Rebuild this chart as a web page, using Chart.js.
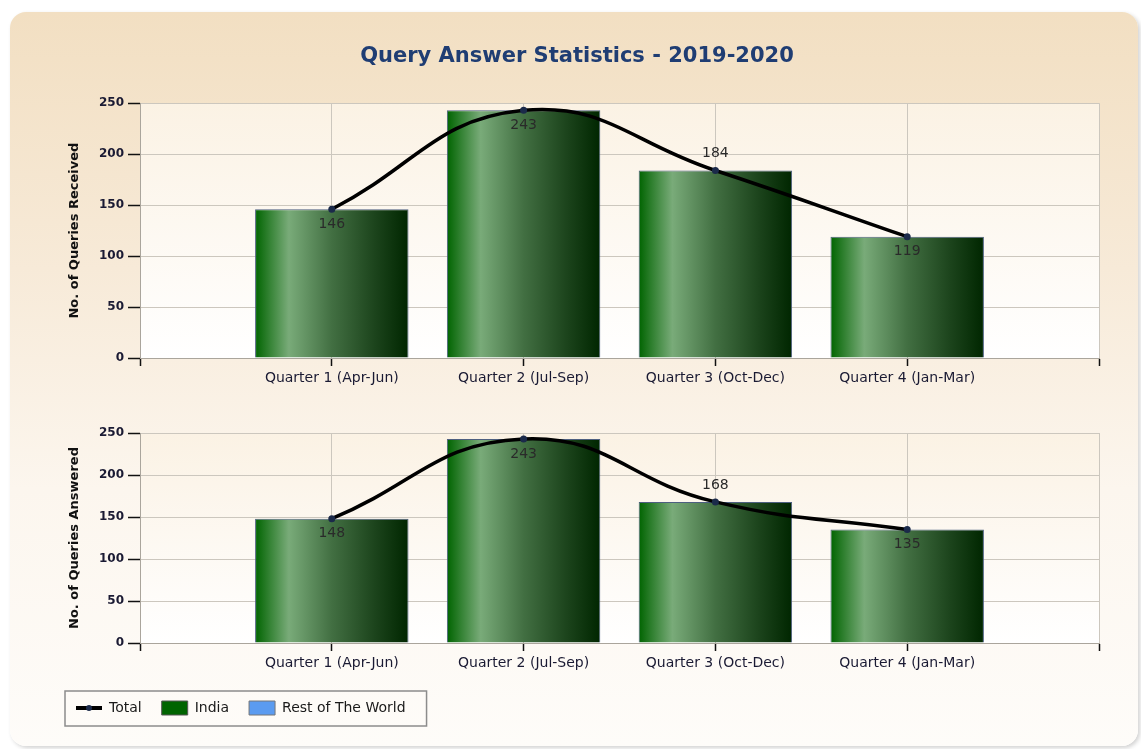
<!DOCTYPE html>
<html>
<head>
<meta charset="utf-8">
<script src="https://cdn.jsdelivr.net/npm/chart.js@4.4.1/dist/chart.umd.min.js"></script>
<style>
  body { margin: 0; background: #fff; }
  #wrap { position: relative; width: 1141px; height: 749px; overflow: hidden; }
  #panel {
    position: absolute; left: 10px; top: 12px; width: 1128px; height: 734px;
    border-radius: 16px;
    background: linear-gradient(to bottom, #f2dfc2 0%, #f7ead8 35%, #fcf6ee 65%, #fefcf9 100%);
    box-shadow: 2px 2px 4px rgba(0,0,0,0.18);
  }
  canvas { position: absolute; left: 0; }
  #received { top: 0; }
  #answered { top: 400px; }
</style>
</head>
<body>
<div id="wrap">
  <div id="panel"></div>
  <canvas id="received" width="1141" height="400"></canvas>
  <canvas id="answered" width="1141" height="349"></canvas>
</div>
<script>
const quarters = ['Quarter 1 (Apr-Jun)', 'Quarter 2 (Jul-Sep)', 'Quarter 3 (Oct-Dec)', 'Quarter 4 (Jan-Mar)'];
const receivedTotal = [146, 243, 184, 119];
const receivedIndia = [146, 243, 184, 119];
const receivedRest = [0, 0, 0, 0];
const answeredTotal = [148, 243, 168, 135];
const answeredIndia = [148, 243, 168, 135];
const answeredRest = [0, 0, 0, 0];
const yTicks = [0, 50, 100, 150, 200, 250];
const labelAbove = [false, false, true, false];

const FONT = "'DejaVu Sans', sans-serif";
const INK = '#1a1a33';
const GRID = '#ccc7be';

// empty slot on both sides so the quarters sit on the inner gridlines
const pad = arr => [null, ...arr, null];

function barGradient(ctx) {
  const chart = ctx.chart;
  const xs = chart.scales.x;
  if (ctx.type !== 'data' || !xs || !chart.chartArea) return '#006400';
  const cx = xs.getPixelForValue(ctx.dataIndex);
  const w = xs.width / (xs.getLabels().length - 1) * 0.8;
  const g = chart.ctx.createLinearGradient(cx - w / 2, 0, cx + w / 2, 0);
  g.addColorStop(0, '#006400');
  g.addColorStop(0.22, '#79ab79');
  g.addColorStop(0.5, '#426f42');
  g.addColorStop(0.78, '#1c441c');
  g.addColorStop(1, '#002600');
  return g;
}

const plotBackground = {
  id: 'plotBackground',
  beforeDraw(chart) {
    const {ctx, chartArea: a} = chart;
    const g = ctx.createLinearGradient(0, a.top, 0, a.bottom);
    g.addColorStop(0, '#fbf2e4');
    g.addColorStop(1, '#ffffff');
    ctx.save();
    ctx.fillStyle = g;
    ctx.fillRect(a.left, a.top, a.width, a.height);
    ctx.restore();
  }
};

const valueLabels = {
  id: 'valueLabels',
  afterDatasetsDraw(chart) {
    const meta = chart.getDatasetMeta(0);
    const values = chart.data.datasets[0].data;
    const ctx = chart.ctx;
    ctx.save();
    ctx.font = `14px ${FONT}`;
    ctx.fillStyle = '#2a2a2a';
    ctx.textAlign = 'center';
    ctx.textBaseline = 'middle';
    meta.data.forEach((pt, i) => {
      if (values[i] == null) return;
      const dy = labelAbove[i - 1] ? -17 : 15;
      ctx.fillText(values[i], pt.x, pt.y + dy);
    });
    ctx.restore();
  }
};

const legendFrame = {
  id: 'legendFrame',
  afterDraw(chart) {
    const lg = chart.legend;
    if (!lg || !lg.options.display) return;
    const boxes = lg.legendHitBoxes;
    const first = boxes[0];
    const last = boxes[boxes.length - 1];
    const ctx = chart.ctx;
    ctx.save();
    ctx.strokeStyle = '#8c8c8c';
    ctx.lineWidth = 1.5;
    const left = first.left - 11;
    const top = first.top - 10;
    ctx.strokeRect(left, top, last.left + last.width + 21 - left, first.height + 21);
    // line + dot icon for the Total series
    const cy = first.top + first.height / 2;
    ctx.strokeStyle = '#000';
    ctx.lineWidth = 4;
    ctx.beginPath();
    ctx.moveTo(first.left, cy);
    ctx.lineTo(first.left + 26, cy);
    ctx.stroke();
    ctx.fillStyle = '#1b2a4a';
    ctx.beginPath();
    ctx.arc(first.left + 13, cy, 3, 0, Math.PI * 2);
    ctx.fill();
    ctx.restore();
  }
};

function makeChart(id, axisTitle, total, india, rest, opts) {
  const ctx = document.getElementById(id);
  return new Chart(ctx, {
    data: {
      labels: pad(quarters).map(l => l || ''),
      datasets: [
        {
          type: 'line',
          label: 'Total',
          data: pad(total),
          borderColor: '#000',
          borderWidth: 3.5,
          tension: 0.45,
          pointRadius: 3.5,
          pointBackgroundColor: '#1b2a4a',
          pointBorderWidth: 0,
          stack: 'total'
        },
        {
          type: 'bar',
          label: 'India',
          data: pad(india),
          backgroundColor: barGradient,
          borderColor: '#4d5f80',
          borderWidth: 1,
          categoryPercentage: 1,
          barPercentage: 0.8,
          stack: 'region'
        },
        {
          type: 'bar',
          label: 'Rest of The World',
          data: pad(rest),
          backgroundColor: '#5b9bf0',
          borderWidth: 0,
          inflateAmount: 0,
          categoryPercentage: 1,
          barPercentage: 0.8,
          stack: 'region'
        }
      ]
    },
    options: {
      responsive: false,
      animation: false,
      events: [],
      layout: { padding: opts.padding },
      plugins: {
        title: opts.title ? {
          display: true,
          text: opts.title,
          color: '#1f3d73',
          font: { family: FONT, size: 21, weight: 'bold' },
          padding: { top: 44, bottom: 34 }
        } : { display: false },
        legend: opts.legend ? {
          display: true,
          position: 'bottom',
          align: 'start',
          labels: {
            font: { family: FONT, size: 14 },
            color: '#1a1a1a',
            boxWidth: 26,
            boxHeight: 14,
            padding: 20,
            generateLabels: () => [
              { text: 'Total', fillStyle: 'rgba(0,0,0,0)', strokeStyle: 'rgba(0,0,0,0)', lineWidth: 0, fontColor: '#1a1a1a' },
              { text: 'India', fillStyle: '#006400', strokeStyle: '#555', lineWidth: 1, fontColor: '#1a1a1a' },
              { text: 'Rest of The World', fillStyle: '#5b9bf0', strokeStyle: '#777', lineWidth: 1, fontColor: '#1a1a1a' }
            ]
          }
        } : { display: false },
        tooltip: { enabled: false }
      },
      scales: {
        x: {
          stacked: true,
          offset: false,
          afterFit: s => { s.height = opts.xHeight; },
          grid: { offset: false, color: GRID, tickColor: '#111', tickWidth: 1.5, tickLength: 8, drawTicks: true },
          border: { color: '#aaa59c' },
          ticks: { font: { family: FONT, size: 14 }, color: INK, padding: 4, maxRotation: 0, autoSkip: false }
        },
        y: {
          stacked: true,
          min: yTicks[0],
          max: yTicks[yTicks.length - 1],
          afterFit: s => { s.width = opts.yWidth; },
          afterBuildTicks: s => { s.ticks = yTicks.map(v => ({ value: v })); },
          grid: { color: GRID, tickColor: '#111', tickWidth: 1.5, tickLength: 12 },
          border: { color: '#aaa59c' },
          ticks: { font: { family: FONT, size: 12, weight: 'bold' }, color: INK, padding: 4 },
          title: {
            display: true,
            text: axisTitle,
            color: '#111',
            font: { family: FONT, size: 13, weight: 'bold' },
            padding: { top: opts.titlePad, bottom: 0 }
          }
        }
      }
    },
    plugins: [plotBackground, valueLabels, legendFrame]
  });
}

makeChart('received', 'No. of Queries Received', receivedTotal, receivedIndia, receivedRest, {
  title: 'Query Answer Statistics - 2019-2020',
  legend: false,
  padding: { left: 55, right: 42, top: 0, bottom: 0 },
  xHeight: 42,
  yWidth: 85,
  titlePad: 12
});

makeChart('answered', 'No. of Queries Answered', answeredTotal, answeredIndia, answeredRest, {
  legend: true,
  padding: { left: 56, right: 42, top: 33, bottom: 24 },
  xHeight: 38,
  yWidth: 84,
  titlePad: 11
});
</script>
</body>
</html>
